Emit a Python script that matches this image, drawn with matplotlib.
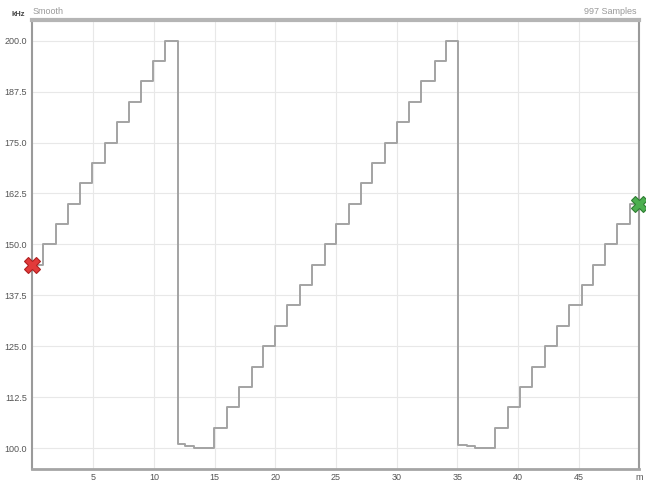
import matplotlib
matplotlib.use('Agg')
import matplotlib.pyplot as plt

# step change times (minutes) and the frequency held from each time (kHz)
times = [0, 0.85, 1.9, 2.95, 3.9, 4.9, 5.95, 6.95, 7.95, 8.9, 9.9, 10.9,
         11.95, 12.6, 13.3,
         14.95, 16.0, 17.0, 18.05, 19.0, 20.0, 21.0, 22.05, 23.05, 24.1,
         25.05, 26.05, 27.05, 28.0, 29.05, 30.05, 31.05, 32.05, 33.15, 34.05,
         35.05, 35.8, 36.5,
         38.1, 39.15, 40.15, 41.2, 42.2, 43.2, 44.2, 45.25, 46.2, 47.2, 48.15, 49.2,
         50.0]
freq = [145, 150, 155, 160, 165, 170, 175, 180, 185, 190, 195, 200,
        101, 100.6, 100,
        105, 110, 115, 120, 125, 130, 135, 140, 145, 150,
        155, 160, 165, 170, 175, 180, 185, 190, 195, 200,
        100.7, 100.4, 100,
        105, 110, 115, 120, 125, 130, 135, 140, 145, 150, 155, 160,
        160]

y_ticks = [100.0, 112.5, 125.0, 137.5, 150.0, 162.5, 175.0, 187.5, 200.0]
x_ticks = [5, 10, 15, 20, 25, 30, 35, 40, 45, 50]
x_labels = ['5', '10', '15', '20', '25', '30', '35', '40', '45', 'm']

plt.rcParams['font.family'] = ['Liberation Sans', 'DejaVu Sans']

fig = plt.figure(figsize=(6.46, 4.82), dpi=100)
ax = fig.add_axes([0.0503, 0.027, 0.9393, 0.9315])

ax.step(times, freq, where='post', color='#a3a3a3', lw=1.4)

# start / end markers
ax.plot(times[0], freq[0], marker='X', ms=11, color='#e23a3a', mec='#b02020',
        mew=0.8, clip_on=False, zorder=5)
ax.plot(times[-1], freq[-1], marker='X', ms=11, color='#4caf50', mec='#2e7d32',
        mew=0.8, clip_on=False, zorder=5)

ax.set_xlim(0, 50)
ax.set_ylim(94.85, 205.1)
ax.set_yticks(y_ticks)
ax.set_yticklabels(['%.1f' % v for v in y_ticks])
ax.set_xticks(x_ticks)
ax.set_xticklabels(x_labels)
ax.tick_params(length=0, labelsize=6.5, colors='#555555')
ax.tick_params(axis='y', pad=4)
ax.tick_params(axis='x', pad=3)

ax.grid(True, color='#e8e8e8', lw=0.8)
ax.set_axisbelow(True)

for side in ['left', 'right']:
    ax.spines[side].set_color('#9a9a9a')
    ax.spines[side].set_linewidth(1.5)
ax.spines['top'].set_color('#b5b5b5')
ax.spines['top'].set_linewidth(3)
ax.spines['bottom'].set_color('#a5a5a5')
ax.spines['bottom'].set_linewidth(2)

fig.text(12 / 646, 1 - 14 / 482, 'kHz', fontsize=5.5, color='#444444',
         fontweight='bold', va='center')
fig.text(33 / 646, 1 - 11 / 482, 'Smooth', fontsize=6.5, color='#999999', va='center')
fig.text(636 / 646, 1 - 11 / 482, '997 Samples', fontsize=6.5, color='#999999',
         va='center', ha='right')

fig.savefig('out.png', dpi=100)
